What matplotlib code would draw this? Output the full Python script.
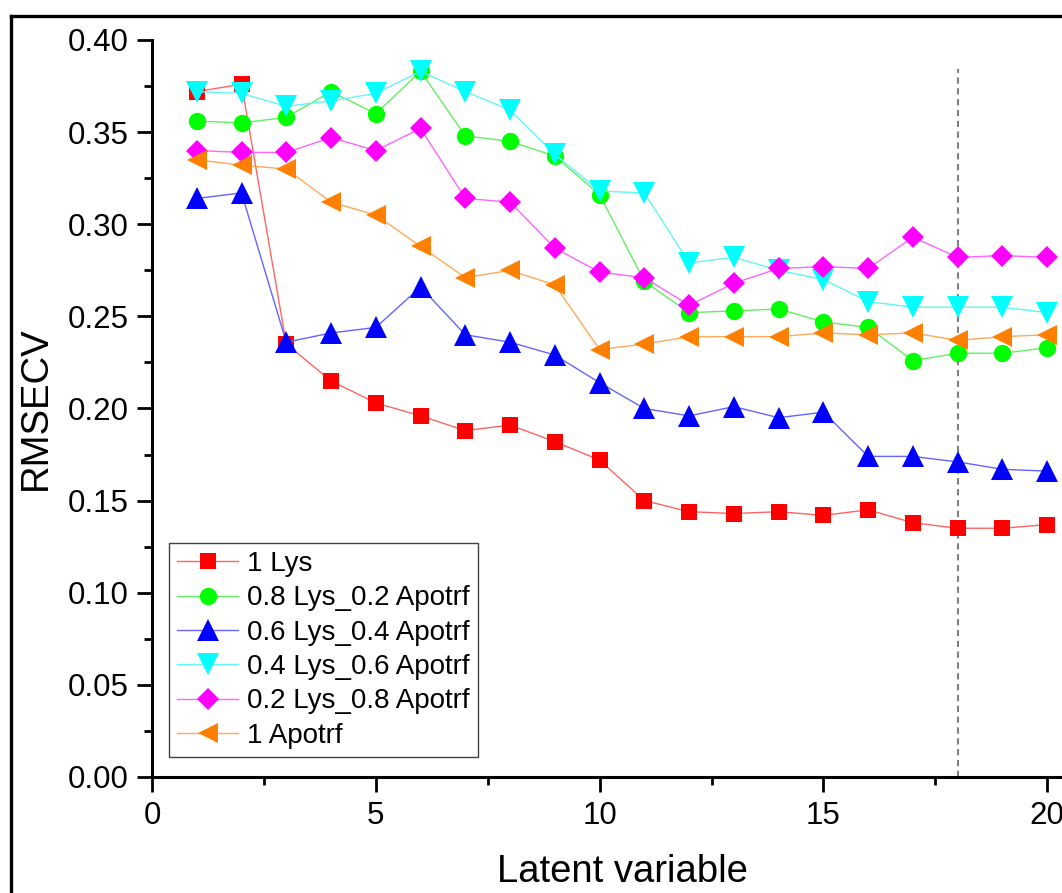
import matplotlib
matplotlib.use("Agg")
import matplotlib.pyplot as plt
from matplotlib.lines import Line2D
from matplotlib.ticker import MultipleLocator, FormatStrFormatter

plt.rcParams['font.family'] = ['Liberation Sans', 'DejaVu Sans']

# latent variables 1..20
latent = list(range(1, 21))

lys_1 = [0.372, 0.376, 0.235, 0.215, 0.203, 0.196, 0.188, 0.191, 0.182, 0.172,
         0.150, 0.144, 0.143, 0.144, 0.142, 0.145, 0.138, 0.135, 0.135, 0.137]
lys_08 = [0.356, 0.355, 0.358, 0.372, 0.360, 0.383, 0.348, 0.345, 0.337, 0.316,
          0.269, 0.252, 0.253, 0.254, 0.247, 0.244, 0.226, 0.230, 0.230, 0.233]
lys_06 = [0.314, 0.317, 0.236, 0.241, 0.244, 0.266, 0.240, 0.236, 0.229, 0.214,
          0.200, 0.196, 0.201, 0.195, 0.198, 0.174, 0.174, 0.171, 0.167, 0.166]
lys_04 = [0.372, 0.371, 0.364, 0.367, 0.371, 0.383, 0.372, 0.362, 0.338, 0.318,
          0.317, 0.279, 0.282, 0.275, 0.270, 0.258, 0.255, 0.255, 0.255, 0.252]
lys_02 = [0.340, 0.339, 0.339, 0.347, 0.340, 0.352, 0.314, 0.312, 0.287, 0.274,
          0.271, 0.256, 0.268, 0.276, 0.277, 0.276, 0.293, 0.282, 0.283, 0.282]
apotrf_1 = [0.335, 0.332, 0.330, 0.312, 0.305, 0.288, 0.271, 0.275, 0.267, 0.232,
            0.235, 0.239, 0.239, 0.239, 0.241, 0.240, 0.241, 0.237, 0.239, 0.240]

labels = ["1 Lys", "0.8 Lys_0.2 Apotrf", "0.6 Lys_0.4 Apotrf",
          "0.4 Lys_0.6 Apotrf", "0.2 Lys_0.8 Apotrf", "1 Apotrf"]
series = [lys_1, lys_08, lys_06, lys_04, lys_02, apotrf_1]
marker_colors = ["#ff0000", "#00ff00", "#0000ff", "#00ffff", "#ff00ff", "#ff8000"]
line_colors = ["#ff6464", "#64ee64", "#6464ff", "#64f5f5", "#ff64ff", "#ffaa5a"]
markers = ["s", "o", "^", "v", "D", "<"]
sizes = [11.3, 12.5, 15.5, 16, 11, 15]

best_lv = 18
best_lv_top = 0.384

fig = plt.figure(figsize=(10.62, 8.93), dpi=100)
ax = fig.add_axes([152 / 1062, 116 / 893, 940 / 1062, 737 / 893])

for y, lab, mc, lc, m, s in zip(series, labels, marker_colors, line_colors, markers, sizes):
    ax.plot(latent, y, color=lc, lw=1.0, marker=m, ms=s, mfc=mc, mec=mc,
            mew=0, label=lab, clip_on=False)

# selected number of latent variables
ax.vlines(best_lv, 0, best_lv_top, colors="#808080", linestyles=(0, (3, 2.2)),
          lw=1.5, zorder=1)

ax.set_xlim(0, 21)
ax.set_ylim(0, 0.40)
ax.xaxis.set_major_locator(MultipleLocator(5))
ax.xaxis.set_minor_locator(MultipleLocator(2.5))
ax.yaxis.set_major_locator(MultipleLocator(0.05))
ax.yaxis.set_minor_locator(MultipleLocator(0.025))
ax.yaxis.set_major_formatter(FormatStrFormatter('%.2f'))

for side in ['top', 'right']:
    ax.spines[side].set_visible(False)
for side in ['left', 'bottom']:
    ax.spines[side].set_linewidth(2.2)

ax.tick_params(which='major', direction='out', length=11, width=2, labelsize=22.5, pad=6)
ax.tick_params(which='minor', direction='out', length=6, width=2)

ax.set_xlabel("Latent variable", fontsize=27.5, labelpad=17)
ax.set_ylabel("RMSECV", fontsize=27.5, labelpad=10)

leg = ax.legend(loc='lower left', bbox_to_anchor=(17 / 940, 20 / 737), borderaxespad=0,
                fontsize=20, numpoints=1, handlelength=2.2, handletextpad=0.3,
                labelspacing=0.3, borderpad=0.3, fancybox=False, framealpha=1)
leg.get_frame().set_edgecolor("#404040")
leg.get_frame().set_linewidth(1.0)

# outer graph frame (cropped on the right and bottom)
fig.add_artist(Line2D([11 / 1062, 1.05], [1 - 16 / 893, 1 - 16 / 893],
                      color='black', lw=2.4, transform=fig.transFigure))
fig.add_artist(Line2D([11 / 1062, 11 / 1062], [1 - 16 / 893, -0.05],
                      color='black', lw=2.4, transform=fig.transFigure))

fig.savefig("out.png", dpi=100)
